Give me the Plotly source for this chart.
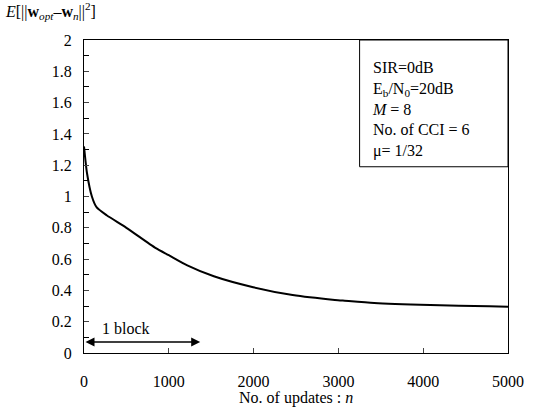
import plotly.graph_objects as go

# Data
n_updates = [0, 35, 93, 150, 267, 500, 847, 1000, 1218, 1531, 1995, 2460, 2958, 3074, 3422, 4083, 4780, 5000]
mse = [1.32, 1.15, 1.0, 0.93, 0.88, 0.80, 0.67, 0.625, 0.56, 0.49, 0.42, 0.37, 0.339, 0.334, 0.32, 0.307, 0.298, 0.296]

y_ticks = [0, 0.2, 0.4, 0.6, 0.8, 1, 1.2, 1.4, 1.6, 1.8, 2]
x_ticks = [0, 1000, 2000, 3000, 4000, 5000]

block_start = 0
block_end = 1370
block_level = 0.07

box_lines = [
    "SIR=0dB",
    "E<sub>b</sub>/N<sub>0</sub>=20dB",
    "<i>M</i> = 8",
    "No. of CCI = 6",
    "\u03bc= 1/32",
]

FONT = "'Liberation Serif', 'Times New Roman', serif"

fig = go.Figure()
fig.add_trace(go.Scatter(x=n_updates, y=mse, mode="lines",
                         line=dict(color="black", width=2, shape="spline", smoothing=0.6),
                         showlegend=False, hoverinfo="skip"))

fig.update_layout(
    width=536, height=418,
    margin=dict(l=84, r=20, t=40, b=65),
    paper_bgcolor="white", plot_bgcolor="white",
    font=dict(family=FONT, size=15, color="black"),
    xaxis=dict(range=[0, 5000], tickvals=x_ticks, ticks="inside", ticklen=5,
               showline=True, linecolor="black", linewidth=1, mirror=True,
               showgrid=False, zeroline=False, ticklabelstandoff=14,
               ticklabeloverflow="allow",
               tickfont=dict(family=FONT, size=16)),
    yaxis=dict(range=[0, 2], tickvals=y_ticks, ticks="inside", ticklen=5,
               showline=True, linecolor="black", linewidth=1, mirror=True,
               showgrid=False, zeroline=False, ticklabelstandoff=8,
               minor=dict(dtick=0.1, ticks="inside", ticklen=5, tickcolor="black"),
               tickfont=dict(family=FONT, size=16)),
)

# y-axis title at top-left
fig.add_annotation(xref="paper", yref="paper", x=-0.19, y=1.05, xanchor="left", yanchor="bottom",
                   text="<i>E</i>[||<b>w</b><sub><i>opt</i></sub>\u2013<b>w</b><sub><i>n</i></sub>||<sup>2</sup>]",
                   showarrow=False, font=dict(family=FONT, size=16))
# x-axis title
fig.add_annotation(xref="paper", yref="paper", x=0.5, y=-0.11, xanchor="center", yanchor="top",
                   text="No. of updates : <i>n</i>", showarrow=False, font=dict(family=FONT, size=16))

# parameter box
fig.add_shape(type="rect", xref="paper", yref="paper", x0=0.65, x1=1.0, y0=0.595, y1=1.0,
              line=dict(color="black", width=1), fillcolor="white")
fig.add_annotation(xref="paper", yref="paper", x=0.675, y=0.945, xanchor="left", yanchor="top",
                   text="<br>".join(box_lines), align="left", showarrow=False,
                   font=dict(family=FONT, size=16))

# 1 block arrow
fig.add_annotation(x=block_end, y=block_level, ax=block_start, ay=block_level,
                   xref="x", yref="y", axref="x", ayref="y", text="",
                   showarrow=True, arrowhead=2, arrowside="end+start", arrowsize=1.2,
                   arrowwidth=1.5, arrowcolor="black")
fig.add_annotation(x=190, y=0.155, xref="x", yref="y", text="1 block", xanchor="left",
                   showarrow=False, font=dict(family=FONT, size=16))

fig.write_html("out.html")
